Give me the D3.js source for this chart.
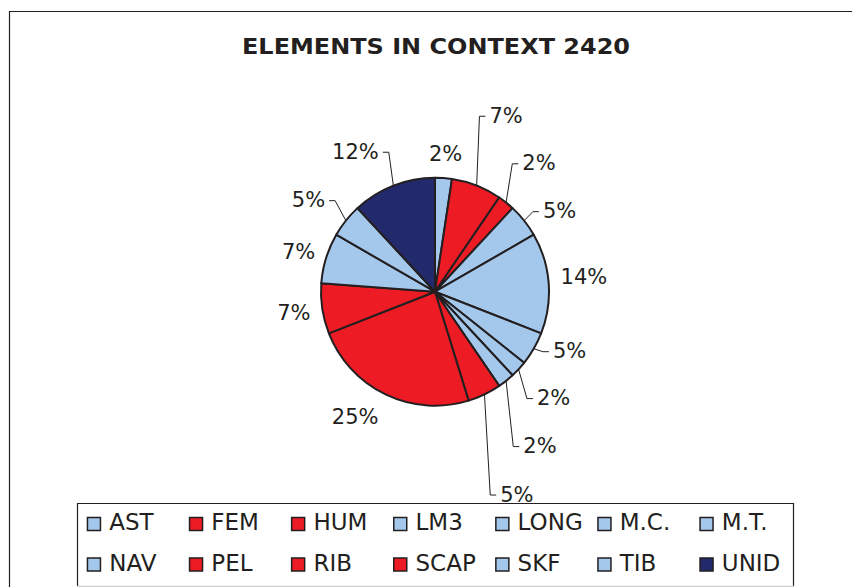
<!DOCTYPE html>
<html><head><meta charset="utf-8">
<script src="https://cdn.jsdelivr.net/npm/d3@7"></script>
<style>body{margin:0;background:#fff}svg{display:block}</style>
</head><body><svg id="c" width="852" height="587"></svg>
<script>
// ---- data ----
const categories = ["AST","FEM","HUM","LM3","LONG","M.C.","M.T.","NAV","PEL","RIB","SCAP","SKF","TIB","UNID"];
const counts = [1,3,1,2,6,2,1,1,2,10,3,3,2,5];
const percentLabels = ["2%","7%","2%","5%","14%","5%","2%","2%","5%","25%","7%","7%","5%","12%"];
const colorGroups = ["light","red","red","light","light","light","light","light","red","red","red","light","light","dark"];
const chartTitle = "ELEMENTS IN CONTEXT 2420";

// ---- layout / style ----
const W = 852, H = 587;
const ink = "#231F20";
const palette = {light:"#A4C8EC", red:"#ED1C24", dark:"#232A6C"};
const cx = 435, cy = 291.7, R = 114;
const labelGap = 12, labelHalfH = 12;
const labelNudge = {AST:[0,-1], FEM:[19,-48], HUM:[15,-21], LM3:[13,5], LONG:[0,-5],
  "M.C.":[11,-10], "M.T.":[14,12], NAV:[16,46], PEL:[20,78], RIB:[-15,0],
  TIB:[-15,-6], UNID:[-25,-12]};
const withLeader = new Set(["FEM","HUM","LM3","M.C.","M.T.","NAV","PEL","TIB","UNID"]);

const data = categories.map((c,i)=>({cat:c, count:counts[i], label:percentLabels[i], group:colorGroups[i]}));
const svg = d3.select("#c");

// frame
svg.append("path").attr("d", `M9.5,${H} V11.5 H${W}`).attr("fill","none").attr("stroke",ink).attr("stroke-width",1.2);

// title
svg.append("text").attr("x",436).attr("y",53.5).attr("text-anchor","middle")
  .attr("font-family","DejaVu Sans, sans-serif").attr("font-weight","bold").attr("font-size",22)
  .attr("textLength",388).attr("lengthAdjust","spacingAndGlyphs")
  .attr("fill",ink).text(chartTitle);

// pie
const pie = d3.pie().sort(null).value(d=>d.count);
const arcs = pie(data);
const arc = d3.arc().innerRadius(0).outerRadius(R);
const g = svg.append("g").attr("transform",`translate(${cx},${cy})`);
g.selectAll("path").data(arcs).join("path")
  .attr("d",arc).attr("fill",d=>palette[d.data.group])
  .attr("stroke",ink).attr("stroke-width",2).attr("stroke-linejoin","round");

// labels
const fs = 21;
const lg = svg.append("g");
arcs.forEach(d=>{
  const a = (d.startAngle+d.endAngle)/2;
  const ux = Math.sin(a), uy = -Math.cos(a);
  const t = lg.append("text").attr("font-family","DejaVu Sans, sans-serif").attr("font-size",fs)
    .attr("fill",ink).attr("text-anchor","middle").text(d.data.label);
  const w = t.node().getComputedTextLength();
  const nd = labelNudge[d.data.cat] || [0,0];
  const lx = cx + (R+labelGap)*ux + w/2*ux + nd[0];
  const ly = cy + (R+labelGap)*uy + labelHalfH*uy + nd[1];
  t.attr("x",lx).attr("y",ly + 0.365*fs);
  if (withLeader.has(d.data.cat)) {
    const side = lx > cx ? 1 : -1;
    const edge = lx - side*w/2;
    const sx = cx + R*ux, sy = cy + R*uy;
    const pts = [[sx,sy],[edge - side*10, ly+1],[edge - side*4, ly+1]];
    lg.append("path").attr("d", d3.line()(pts)).attr("fill","none")
      .attr("stroke",ink).attr("stroke-width",1);
  }
});

// legend
const lx0 = 77, ly0 = 503, lx1 = 793, ly1 = 586;
svg.append("path").attr("d",`M${lx0+0.5},${ly1} V${ly0+0.5} H${lx1+0.5} V${ly1}`)
  .attr("fill","none").attr("stroke",ink).attr("stroke-width",1.2);
svg.append("line").attr("x1",lx0).attr("x2",lx1+1).attr("y1",ly1+0.5).attr("y2",ly1+0.5)
  .attr("stroke","#cfcfcf").attr("stroke-width",1.5);
const perRow = 7;
const colX = d3.scaleLinear().domain([0,perRow-1]).range([86.7, 699.3]);
const rowY = d3.scaleLinear().domain([0,1]).range([522, 562.5]);
const leg = svg.append("g").selectAll("g").data(data).join("g")
  .attr("transform",(d,i)=>`translate(${colX(i%perRow)},${rowY(Math.floor(i/perRow))})`);
leg.append("rect").attr("x",0.75).attr("y",-4.5).attr("width",13).attr("height",13)
  .attr("fill",d=>palette[d.group]).attr("stroke",ink).attr("stroke-width",1.5);
leg.append("text").attr("x",22.5).attr("y",0.365*23).attr("font-family","DejaVu Sans, sans-serif")
  .attr("font-size",23).attr("fill",ink).text(d=>d.cat);
</script></body></html>
